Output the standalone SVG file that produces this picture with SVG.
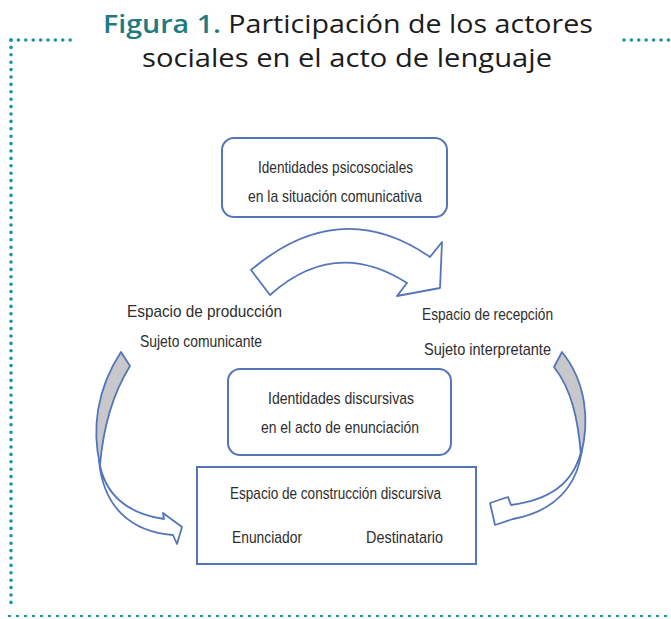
<svg xmlns="http://www.w3.org/2000/svg" width="671" height="619" viewBox="0 0 671 619">
<style>
.dots{stroke:#1a93a6;stroke-width:3.6;stroke-linecap:round;stroke-dasharray:0 7.4;fill:none}
.dash{stroke:#1a93a6;stroke-width:2;stroke-dasharray:3 5;fill:none}
.title{font-family:"Open Sans","Liberation Sans",sans-serif;font-size:25px;fill:#1c1c1c}
.fig{fill:#1f7b80;font-weight:600}
.box{fill:#fff;stroke:#5476b9;stroke-width:2}
.lbl{font-family:"Liberation Sans",Arial,sans-serif;font-size:17px;fill:#2e2e2e}
.arr{fill:#fff;stroke:#5476b9;stroke-width:1.8;stroke-linejoin:round}
.back{fill:#c8c8cc;stroke:#5476b9;stroke-width:1.8;stroke-linejoin:round}
</style>
<rect width="671" height="619" fill="#fff"/>
<g id="frame">
<line class="dots" x1="11" y1="40" x2="11" y2="608"/>
<line class="dots" x1="11" y1="40" x2="72" y2="40"/>
<line class="dots" x1="624" y1="40" x2="671" y2="40"/>
<line class="dash" x1="8" y1="616" x2="671" y2="616"/>
</g>
<g id="title">
<text class="title" x="103" y="33" textLength="490" lengthAdjust="spacingAndGlyphs"><tspan class="fig">Figura 1.</tspan> Participación de los actores</text>
<text class="title" x="142" y="67" textLength="410" lengthAdjust="spacingAndGlyphs">sociales en el acto de lenguaje</text>
</g>
<g id="connectors">
<path class="arr" d="M251,270 Q340,195 430,257 L442,242 L440,288 L397,296 L407,283 Q335,237 270,295 Z"/>
<path class="back" d="M121,352 L130,366 C112,395 103,430 100,465 C92,430 96,390 121,352 Z"/>
<path class="arr" d="M99,460 C104,495 128,514 164,519 L163,513 L182,527 L177,544 L173,535 C132,532 103,508 99,460 Z"/>
<path class="back" d="M562,352 C586,382 590,420 581,455 C578,420 572,390 554,367 Z"/>
<path class="arr" d="M582,448 C578,488 552,512 513,519 L495,525 L490,503 L508,497 L511,505 C548,500 574,485 582,448 Z"/>
</g>
<g id="node-psico">
<rect class="box" x="222" y="138" width="225" height="79" rx="12"/>
<text class="lbl" x="258" y="173" textLength="155" lengthAdjust="spacingAndGlyphs">Identidades psicosociales</text>
<text class="lbl" x="248" y="202" textLength="174" lengthAdjust="spacingAndGlyphs">en la situación comunicativa</text>
</g>
<g id="node-produccion">
<text class="lbl" x="127" y="317" textLength="155" lengthAdjust="spacingAndGlyphs">Espacio de producción</text>
<text class="lbl" x="140" y="347" textLength="122" lengthAdjust="spacingAndGlyphs">Sujeto comunicante</text>
</g>
<g id="node-recepcion">
<text class="lbl" x="422" y="320" textLength="131" lengthAdjust="spacingAndGlyphs">Espacio de recepción</text>
<text class="lbl" x="424" y="355" textLength="127" lengthAdjust="spacingAndGlyphs">Sujeto interpretante</text>
</g>
<g id="node-discursivas">
<rect class="box" x="228" y="369" width="223" height="86" rx="12"/>
<text class="lbl" x="268" y="404" textLength="146" lengthAdjust="spacingAndGlyphs">Identidades discursivas</text>
<text class="lbl" x="261" y="433" textLength="158" lengthAdjust="spacingAndGlyphs">en el acto de enunciación</text>
</g>
<g id="node-construccion">
<rect class="box" x="197" y="467" width="279" height="97"/>
<text class="lbl" x="230" y="499" textLength="211" lengthAdjust="spacingAndGlyphs">Espacio de construcción discursiva</text>
<text class="lbl" x="232" y="543" textLength="70" lengthAdjust="spacingAndGlyphs">Enunciador</text>
<text class="lbl" x="366" y="543" textLength="77" lengthAdjust="spacingAndGlyphs">Destinatario</text>
</g>
</svg>
